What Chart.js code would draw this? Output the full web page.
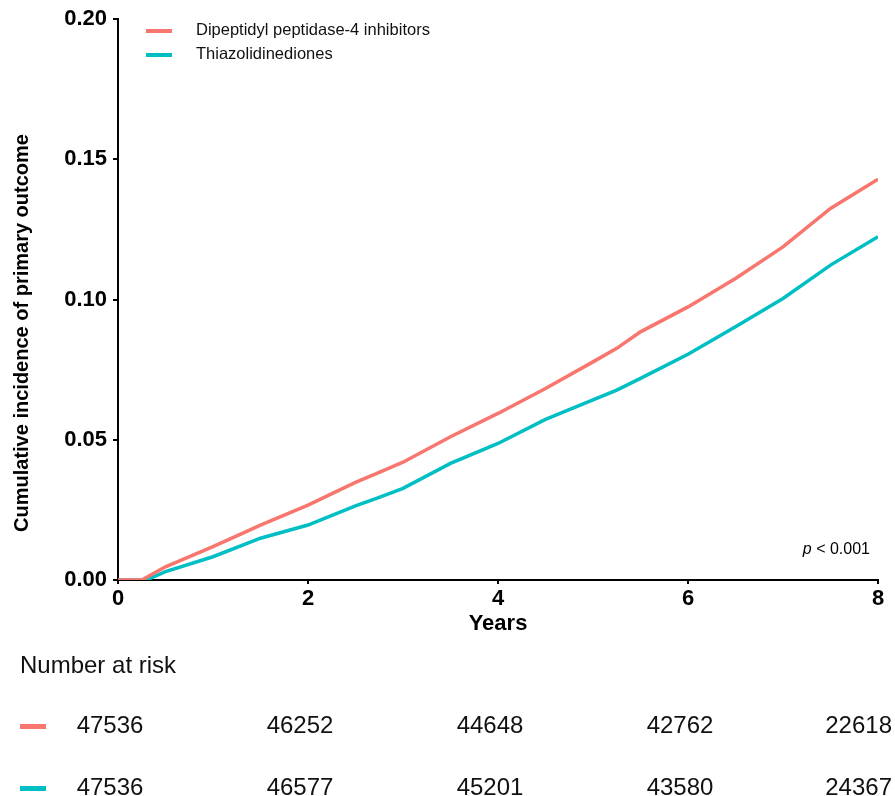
<!DOCTYPE html>
<html>
<head>
<meta charset="utf-8">
<script src="https://cdn.jsdelivr.net/npm/chart.js@4.4.1/dist/chart.umd.min.js"></script>
<style>
html,body{margin:0;padding:0;background:#fff;}
#wrap{width:895px;height:796px;}
</style>
</head>
<body>
<div id="wrap"><canvas id="grafico" width="895" height="796"></canvas></div>
<script>
// series names and colours
const grupos = ["Dipeptidyl peptidase-4 inhibitors", "Thiazolidinediones"];
const cores = ["#F8766D", "#00BFC4"];

// cumulative incidence (years, value)
const anosDpp4 = [0, 0.25, 0.5, 1, 1.5, 2, 2.5, 2.75, 3, 3.5, 4, 4.5, 5, 5.25, 5.5, 6, 6.5, 7, 7.5, 8];
const valDpp4 = [0, 0, 0.0047, 0.0119, 0.0196, 0.0267, 0.0348, 0.0384, 0.0420, 0.0511, 0.0594, 0.0683, 0.0778, 0.0826, 0.0885, 0.0974, 0.1075, 0.1188, 0.1325, 0.1429];

const anosTzd = [0, 0.3, 0.5, 1, 1.5, 2, 2.5, 2.75, 3, 3.5, 4, 4.5, 5, 5.25, 5.5, 6, 6.5, 7, 7.5, 8];
const valTzd = [0, 0, 0.0030, 0.0083, 0.0149, 0.0196, 0.0264, 0.0295, 0.0327, 0.0416, 0.0487, 0.0573, 0.0642, 0.0677, 0.0719, 0.0805, 0.0903, 0.1004, 0.1123, 0.1224];

// ticks
const ticksX = [0, 2, 4, 6, 8];
const ticksY = [0, 0.05, 0.10, 0.15, 0.20];

// number at risk table
const tempoRisco = [0, 2, 4, 6, 8];
const riscoDpp4 = [47536, 46252, 44648, 42762, 22618];
const riscoTzd = [47536, 46577, 45201, 43580, 24367];

function pontos(xs, ys){
return xs.map((x,i)=>({x:x, y:ys[i]}));
}

const extras = {
id:"extras",
afterDraw(chart){
const c = chart.ctx;
const sx = chart.scales.x;
const area = chart.chartArea;
c.save();

// legend
c.font = "16.5px 'Liberation Sans', Arial, sans-serif";
c.textBaseline = "middle";
c.textAlign = "left";
grupos.forEach((g,i)=>{
let y = 31 + i*24;
c.fillStyle = cores[i];
c.fillRect(146, y-2, 26, 4);
c.fillStyle = "#111";
c.fillText(g, 196, y-1);
});

// y title
c.save();
c.translate(22, 333);
c.rotate(-Math.PI/2);
c.font = "bold 20px 'Liberation Sans', Arial, sans-serif";
c.textAlign = "center";
c.textBaseline = "middle";
c.fillStyle = "#000";
c.fillText("Cumulative incidence of primary outcome", 0, 0);
c.restore();

// x title
c.font = "bold 22px 'Liberation Sans', Arial, sans-serif";
c.textAlign = "center";
c.fillStyle = "#000";
c.fillText("Years", (area.left+area.right)/2, 624);

// p value
c.font = "16px 'Liberation Sans', Arial, sans-serif";
c.textAlign = "right";
let resto = " < 0.001";
let wr = c.measureText(resto).width;
c.fillText(resto, 870, 550);
c.font = "italic 16px 'Liberation Sans', Arial, sans-serif";
c.fillText("p", 870 - wr, 550);

// number at risk
c.font = "24px 'Liberation Sans', Arial, sans-serif";
c.textAlign = "left";
c.fillStyle = "#111";
c.fillText("Number at risk", 20, 666);
[riscoDpp4, riscoTzd].forEach((linha,i)=>{
let y = 726 + i*62;
c.fillStyle = cores[i];
c.fillRect(20, y-2, 26, 5);
c.fillStyle = "#111";
c.textAlign = "center";
linha.forEach((n,j)=>{
let x = sx.getPixelForValue(tempoRisco[j]) - 8;
if(j == linha.length-1) x = Math.min(x, 895 - c.measureText(String(n)).width/2 - 3);
c.fillText(String(n), x, y);
});
});

c.restore();
}
};

const ctx = document.getElementById("grafico");

new Chart(ctx,{
type:"line",
data:{
datasets:[{
label:grupos[0],
data:pontos(anosDpp4, valDpp4),
borderColor:cores[0],
borderWidth:3.5,
pointRadius:0,
tension:0,
fill:false
},{
label:grupos[1],
data:pontos(anosTzd, valTzd),
borderColor:cores[1],
borderWidth:3.5,
pointRadius:0,
tension:0,
fill:false
}]
},
options:{
responsive:false,
animation:false,
layout:{padding:{left:0, right:17, top:19, bottom:0}},
plugins:{
legend:{display:false},
tooltip:{enabled:false}
},
scales:{
x:{
type:"linear",
min:0,
max:8,
afterBuildTicks(s){ s.ticks = ticksX.map(v=>({value:v})); },
afterFit(s){ s.height = 216; },
grid:{display:true, drawOnChartArea:false, drawTicks:true, tickLength:4, color:"#000", lineWidth:2},
border:{display:true, color:"#000", width:2},
ticks:{
color:"#000",
padding:2,
maxRotation:0,
font:{family:"'Liberation Sans', Arial, sans-serif", size:22, weight:"bold"},
callback:v=>String(v)
}
},
y:{
min:0,
max:0.2,
afterBuildTicks(s){ s.ticks = ticksY.map(v=>({value:v})); },
afterFit(s){ s.width = 118; },
grid:{display:true, drawOnChartArea:false, drawTicks:true, tickLength:5, color:"#000", lineWidth:2},
border:{display:true, color:"#000", width:2},
ticks:{
color:"#000",
padding:6,
font:{family:"'Liberation Sans', Arial, sans-serif", size:22, weight:"bold"},
callback:v=>v.toFixed(2)
}
}
}
},
plugins:[extras]
});
</script>
</body>
</html>
